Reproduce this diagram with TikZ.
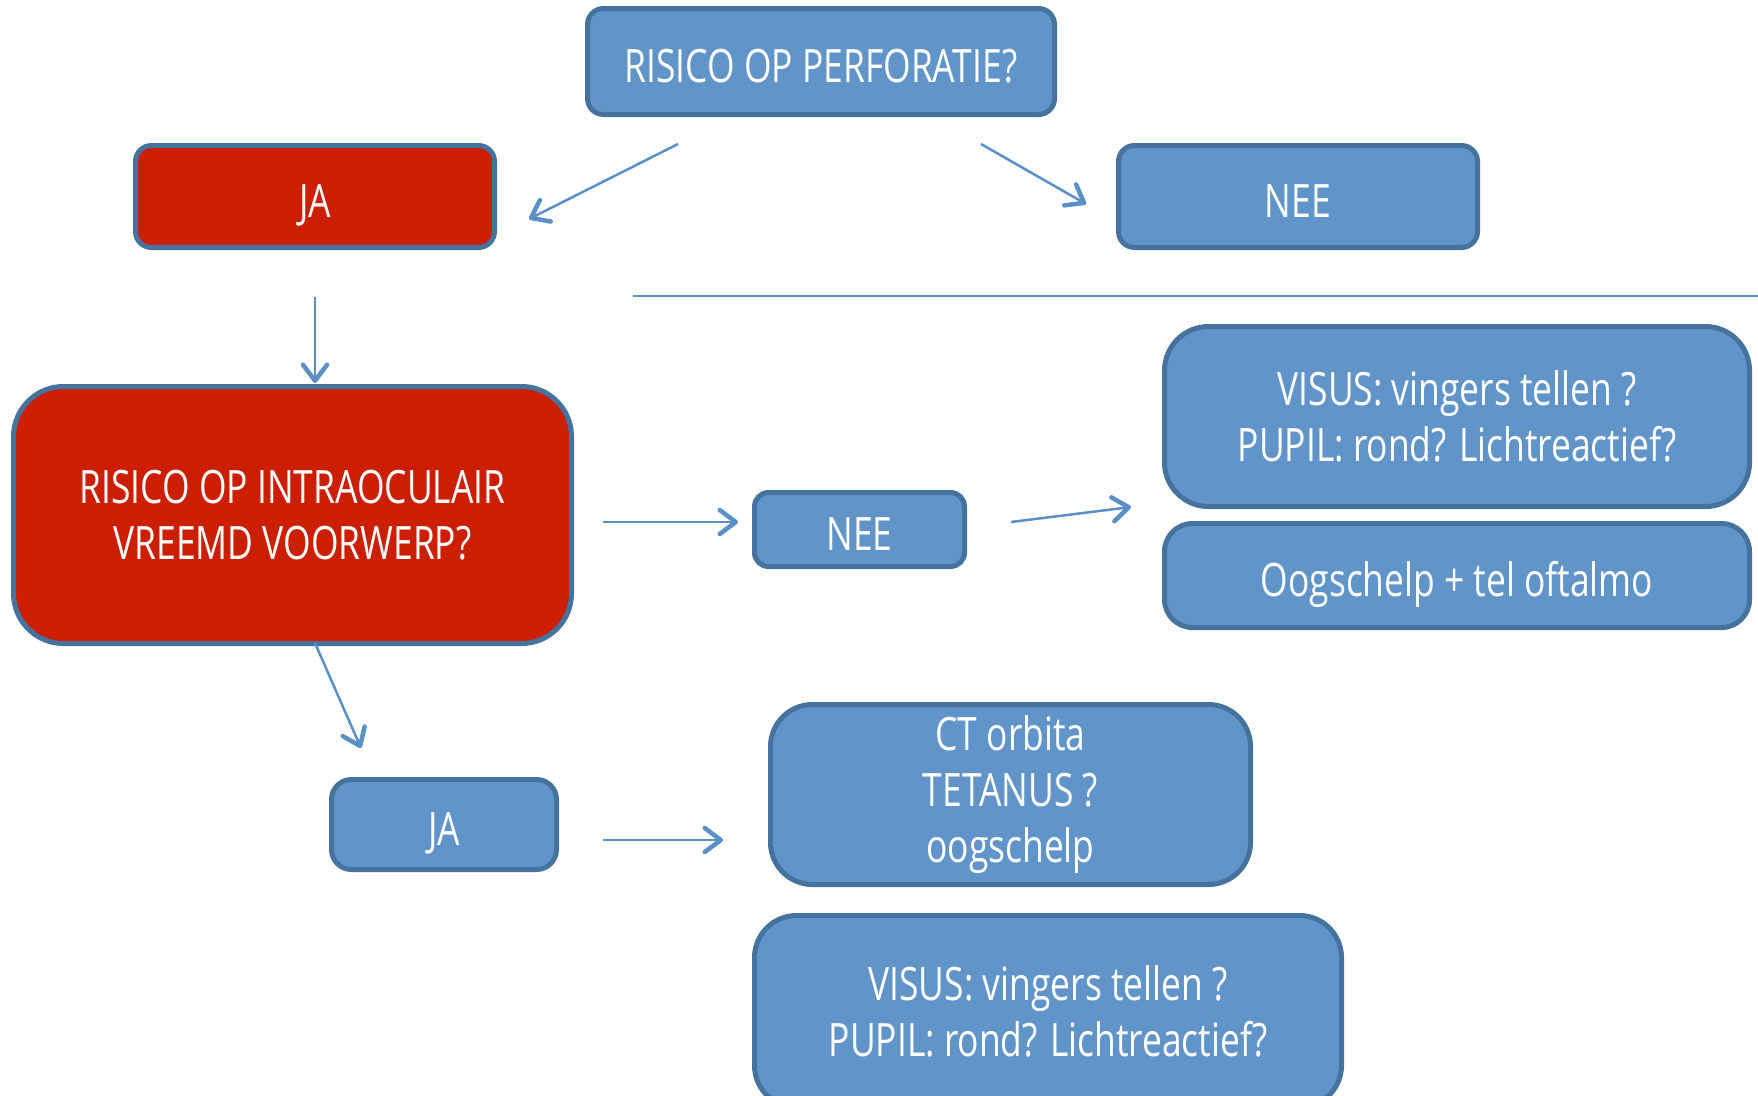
\documentclass[tikz,border=0pt]{standalone}
\usepackage{fontspec}
\setmainfont{Open Sans}[FakeStretch=0.77]
\usetikzlibrary{arrows.meta}

\definecolor{boxblue}{RGB}{97,149,201}
\definecolor{boxline}{RGB}{70,114,158}
\definecolor{alarmred}{RGB}{204,30,0}
\definecolor{arrowblue}{RGB}{91,143,200}

\tikzset{
  flowbox/.style={draw=boxline, line width=5pt, fill=boxblue, text=white,
    font=\fontsize{46}{56}\selectfont, align=center, inner sep=0pt,
    rounded corners=16pt},
  alarmbox/.style={flowbox, fill=alarmred},
  oneline/.style={text height=41pt, text depth=0pt},
  flowarrow/.style={draw=arrowblue, line width=2.5pt,
    -{Straight Barb[length=16pt, width=24pt, line width=4.5pt, round]}},
  divider/.style={draw=arrowblue, line width=2.5pt}
}

\begin{document}
\begin{tikzpicture}[x=1pt, y=-1pt]
\useasboundingbox (0,0) rectangle (1758,1095);
\clip (0,0) rectangle (1758,1095);

% question boxes
\node[flowbox, oneline, minimum width=467pt, minimum height=106pt] (perf) at (821,61.5)
  {RISICO OP PERFORATIE?};
\node[alarmbox, oneline, minimum width=359pt, minimum height=102pt] (ja1) at (315,196.5) {JA};
\node[flowbox, oneline, minimum width=359pt, minimum height=102pt] (nee1) at (1298,196.5) {NEE};

\node[alarmbox, minimum width=558pt, minimum height=257pt, rounded corners=50pt]
  (iovv) at (292.5,515) {RISICO OP INTRAOCULAIR\\VREEMD VOORWERP?};

\node[flowbox, oneline, minimum width=210pt, minimum height=74pt, rounded corners=14pt]
  (nee2) at (859.5,529.5) {NEE};
\node[flowbox, minimum width=585pt, minimum height=180pt, rounded corners=44pt]
  (visus1) at (1457,416.5) {VISUS: vingers tellen ?\\PUPIL: rond? Lichtreactief?};
\node[flowbox, oneline, minimum width=585pt, minimum height=104pt, rounded corners=28pt]
  (oog) at (1457,575.5) {Oogschelp + tel oftalmo};

\node[flowbox, oneline, minimum width=225pt, minimum height=90pt, rounded corners=20pt]
  (ja2) at (444,824.5) {JA};
\node[flowbox, minimum width=480pt, minimum height=180pt, rounded corners=42pt]
  (ct) at (1010.5,794.5) {CT orbita\\TETANUS ?\\oogschelp};
\node[flowbox, minimum width=587pt, minimum height=192pt, rounded corners=42pt]
  (visus2) at (1048,1011.5) {VISUS: vingers tellen ?\\PUPIL: rond? Lichtreactief?};

% arrow ends
\coordinate (p1s) at (678,144);  \coordinate (p1e) at (529,219);
\coordinate (p2s) at (981,144);  \coordinate (p2e) at (1086,204);
\coordinate (j1s) at (315,297);  \coordinate (j1e) at (315,383);
\coordinate (i1s) at (603,522);  \coordinate (i1e) at (738,522);
\coordinate (n2s) at (1011,522); \coordinate (n2e) at (1131,507);
\coordinate (i2s) at (315,643);  \coordinate (i2e) at (361,748);
\coordinate (j2s) at (603,840);  \coordinate (j2e) at (723,840);
\coordinate (dvs) at (633,296);  \coordinate (dve) at (1758,296);

% connectors
\draw[flowarrow] (p1s) -- (p1e);
\draw[flowarrow] (p2s) -- (p2e);
\draw[flowarrow] (j1s) -- (j1e);
\draw[flowarrow] (i1s) -- (i1e);
\draw[flowarrow] (n2s) -- (n2e);
\draw[flowarrow] (i2s) -- (i2e);
\draw[flowarrow] (j2s) -- (j2e);
\draw[divider] (dvs) -- (dve);
\end{tikzpicture}
\end{document}
